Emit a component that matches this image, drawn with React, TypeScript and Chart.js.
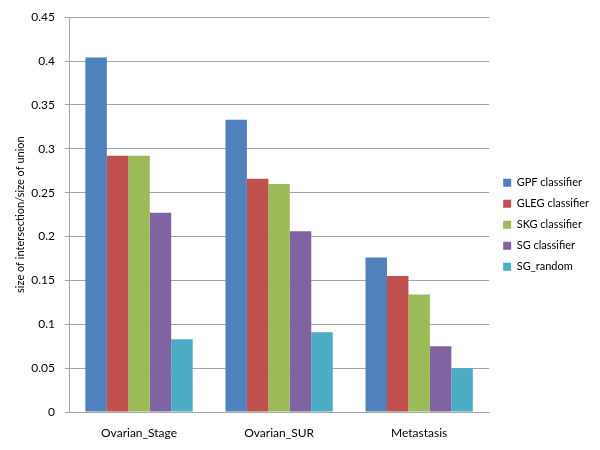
import React, { useEffect, useRef } from "react";
import { Chart, registerables } from "chart.js";

Chart.register(...registerables);

const categories = ["Ovarian_Stage", "Ovarian_SUR", "Metastasis"];
const seriesNames = ["GPF classifier", "GLEG classifier", "SKG classifier", "SG classifier", "SG_random"];
const gpf = [0.404, 0.333, 0.176];
const gleg = [0.292, 0.266, 0.155];
const skg = [0.292, 0.26, 0.134];
const sg = [0.227, 0.206, 0.075];
const sgRandom = [0.083, 0.091, 0.05];
const colors = ["#4F81BD", "#C0504D", "#9BBB59", "#8064A2", "#4BACC6"];
const yTitle = "size of intersection/size of union";

const shiftLegend = {
  id: "shiftLegend",
  afterLayout(chart: any) {
    const lg = chart.legend;
    if (!lg) return;
    lg.left += 4;
    lg.right += 4;
    lg.top -= 6.3;
    lg.bottom -= 6.3;
  },
};

export default function App() {
  const ref = useRef<HTMLCanvasElement | null>(null);
  useEffect(() => {
    if (!ref.current) return;
    const values = [gpf, gleg, skg, sg, sgRandom];
    const font = "Lato, 'Open Sans', sans-serif";
    const chart = new Chart(ref.current, {
      type: "bar",
      data: {
        labels: categories,
        datasets: seriesNames.map((name, i) => ({
          label: name,
          data: values[i],
          backgroundColor: colors[i],
          borderWidth: 0,
          categoryPercentage: 0.766,
          barPercentage: 1,
        })),
      },
      plugins: [shiftLegend],
      options: {
        responsive: false,
        animation: false,
        layout: { padding: { top: 12, left: 0, right: 5, bottom: 0 } },
        plugins: {
          tooltip: { enabled: false },
          legend: {
            position: "right",
            align: "center",
            labels: {
              boxWidth: 8,
              boxHeight: 8,
              padding: 10,
              color: "#000",
              font: { family: font, size: 11 },
            },
          },
        },
        scales: {
          x: {
            grid: { display: false },
            border: { display: true, color: "#A6A6A6", width: 1 },
            ticks: { color: "#000", font: { family: font, size: 12 }, padding: 6, maxRotation: 0 },
            afterFit: (s: any) => { s.height = 38; },
          },
          y: {
            min: 0,
            max: 0.45,
            ticks: {
              stepSize: 0.05,
              color: "#000",
              font: { family: font, size: 12 },
              padding: 10,
              callback: (v: any) => String(Math.round(Number(v) * 100) / 100),
            },
            grid: { color: "#A6A6A6", tickLength: 4, drawTicks: true },
            border: { display: true, color: "#A6A6A6" },
            title: {
              display: true,
              text: yTitle,
              color: "#000",
              font: { family: font, size: 11 },
              padding: { top: 14, bottom: 0 },
            },
            afterFit: (s: any) => { s.width = 69; },
          },
        },
      },
    });
    return () => chart.destroy();
  }, []);
  return (
    <div style={{ position: "absolute", left: 0, top: 0, width: 600, height: 450, background: "#fff" }}>
      <canvas ref={ref} width={600} height={450} />
    </div>
  );
}
